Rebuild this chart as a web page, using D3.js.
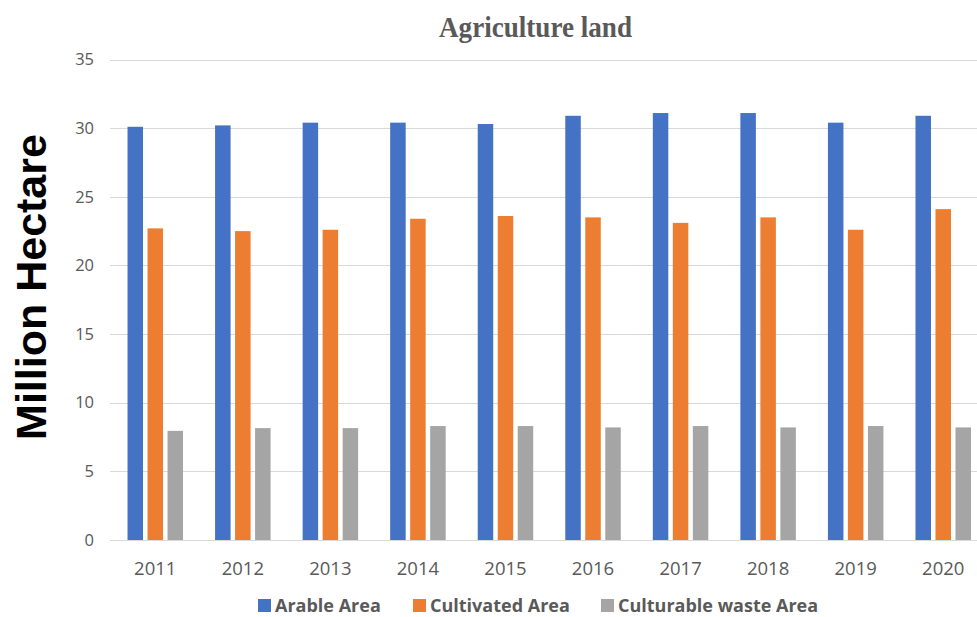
<!DOCTYPE html>
<html><head><meta charset="utf-8">
<script src="https://cdn.jsdelivr.net/npm/d3@7"></script>
<style>body{margin:0;background:#fff}svg{display:block}</style>
</head><body><svg id="c" width="977" height="617"></svg>
<script>
const years = ["2011","2012","2013","2014","2015","2016","2017","2018","2019","2020"];
const seriesNames = ["Arable Area","Cultivated Area","Culturable waste Area"];
const arable = [30.1, 30.2, 30.4, 30.4, 30.3, 30.9, 31.1, 31.1, 30.4, 30.9];
const cultivated = [22.7, 22.5, 22.6, 23.4, 23.6, 23.5, 23.1, 23.5, 22.6, 24.1];
const waste = [7.95, 8.15, 8.15, 8.3, 8.3, 8.2, 8.3, 8.2, 8.3, 8.2];
const yTicks = [0,5,10,15,20,25,30,35];
const colors = ["#4472C4","#ED7D31","#A5A5A5"];
const values = [arable, cultivated, waste];

(function(){
const svg = d3.select("#c");
const pL = 111.5, pR = 987, pT = 59.5, pB = 540;
const x = d3.scaleBand().domain(years).range([pL, pR]).paddingInner(0).paddingOuter(0);
const y = d3.scaleLinear().domain([0,35]).range([pB, pT]);
const barW = 15.5, step = 20;

svg.append("g").selectAll("line").data(yTicks).join("line")
  .attr("x1", 110).attr("x2", 977)
  .attr("y1", d => Math.round(y(d))+0.5).attr("y2", d => Math.round(y(d))+0.5)
  .attr("stroke", "#d9d9d9").attr("stroke-width", 1);

svg.append("g").selectAll("text").data(yTicks).join("text")
  .attr("x", 94).attr("y", d => y(d)).attr("dy", "0.35em")
  .attr("text-anchor", "end").attr("font-family", "Open Sans, sans-serif")
  .attr("font-size", 16.5).attr("fill", "#595959").text(d => d);

values.forEach((vals, si) => {
  svg.append("g").selectAll("rect").data(years).join("rect")
    .attr("x", d => x(d) + x.bandwidth()/2 - step - barW/2 + si*step)
    .attr("width", barW)
    .attr("y", (d,i) => y(vals[i]))
    .attr("height", (d,i) => y(0) - y(vals[i]))
    .attr("fill", colors[si]);
});

svg.append("g").selectAll("text").data(years).join("text")
  .attr("x", d => x(d) + x.bandwidth()/2).attr("y", 575)
  .attr("text-anchor", "middle").attr("font-family", "Open Sans, sans-serif")
  .attr("font-size", 18.5).attr("fill", "#595959").text(d => d);

svg.append("text").attr("x", 535.5).attr("y", 37).attr("text-anchor", "middle")
  .attr("font-family", "Liberation Serif, serif").attr("font-weight", "bold")
  .attr("font-size", 30).attr("textLength", 193).attr("lengthAdjust", "spacingAndGlyphs")
  .attr("fill", "#595959").text("Agriculture land");

svg.append("text").attr("transform", "translate(46,287) rotate(-90)")
  .attr("text-anchor", "middle").attr("font-family", "Liberation Sans, Arial, sans-serif")
  .attr("font-weight", "bold").attr("font-size", 43).attr("fill", "#000").text("Million Hectare");

const legX = [258, 413, 601];
const leg = svg.append("g").selectAll("g").data(seriesNames).join("g")
  .attr("transform", (d,i) => `translate(${legX[i]},599)`);
leg.append("rect").attr("width", 13).attr("height", 13).attr("fill", (d,i) => colors[i]);
leg.append("text").attr("x", 17).attr("y", 12.5).attr("font-family", "Open Sans, sans-serif")
  .attr("font-weight", "bold").attr("font-size", 18).attr("fill", "#595959").text(d => d);
})();
</script></body></html>
